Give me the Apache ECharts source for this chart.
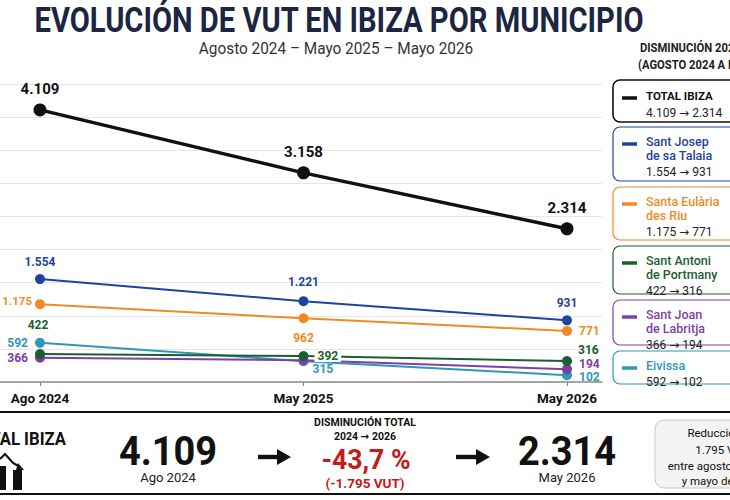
<!DOCTYPE html>
<html>
<head>
<meta charset="utf-8">
<script src="https://cdn.jsdelivr.net/npm/echarts@6/dist/echarts.min.js"></script>
<style>
html,body{margin:0;padding:0;background:#fff;}
#chart{width:730px;height:500px;}
</style>
</head>
<body>
<div id="chart"></div>
<script>
// ---- DATA ----
var categories = ['Ago 2024', 'May 2025', 'May 2026'];
var totalIbiza   = [4109, 3158, 2314];
var santJosep    = [1554, 1221, 931];
var santaEularia = [1175, 962, 771];
var santAntoni   = [422, 392, 316];
var santJoan     = [366, 330, 194];
var eivissa      = [592, 315, 102];
var seriesNames  = ['TOTAL IBIZA', 'Sant Josep\nde sa Talaia', 'Santa Eulària\ndes Riu', 'Sant Antoni\nde Portmany', 'Sant Joan\nde Labritja', 'Eivissa'];
var yTicks = [0, 500, 1000, 1500, 2000, 2500, 3000, 3500, 4000, 4500];

// ---- STYLE ----
var FONT = 'Roboto, "Noto Sans", sans-serif';
var colors = ['#111111', '#1f449e', '#f08a24', '#1c5e33', '#7e40a8', '#2f97b7'];
function fmt(v) { return String(v).replace(/\B(?=(\d{3})+(?!\d))/g, '.'); }

var allSeries = [totalIbiza, santJosep, santaEularia, santAntoni, santJoan, eivissa];

// label placement per series / point (style only)
var labelCfg = [
  [{position:'top', distance:7}, {position:'top', distance:7}, {position:'top', distance:7}],
  [{position:'top', distance:6}, {position:'top', distance:8}, {position:'top', distance:6}],
  [{position:'left', distance:3, offset:[0,-3], fontSize:11.5}, {position:'bottom', distance:9}, {position:'right', distance:7}],
  [{position:'top', distance:6, offset:[-2,-12]}, {position:'right', distance:6, backgroundColor:'#fff', padding:[0,3]}, {position:'right', distance:6, offset:[0,-11]}],
  [{position:'left', distance:7}, {show:false}, {position:'right', distance:7, offset:[0,-5]}],
  [{position:'left', distance:7}, {position:'right', distance:4, offset:[0,8]}, {position:'right', distance:7, offset:[0,2]}]
];

var series = allSeries.map(function (vals, si) {
  var isTotal = si === 0;
  return {
    name: seriesNames[si].replace('\n', ' '),
    type: 'line',
    xAxisIndex: 1,
    yAxisIndex: 1,
    data: vals.map(function (v, i) {
      return { value: v, label: labelCfg[si][i] };
    }),
    symbol: 'circle',
    symbolSize: isTotal ? 13 : 10,
    lineStyle: { color: colors[si], width: isTotal ? 3.5 : 2 },
    itemStyle: { color: colors[si] },
    z: isTotal ? 10 : 5 + (6 - si),
    label: {
      show: true,
      formatter: function (p) { return fmt(p.value); },
      color: colors[si] === '#111111' ? '#111' : colors[si],
      fontFamily: FONT,
      fontWeight: 'bold',
      fontSize: isTotal ? 15 : 12
    },
    emphasis: { disabled: true },
    animation: false
  };
});

// ---- GRAPHICS ----
var graphics = [];
function txt(text, x, y, size, weight, color, align, extra, rich) {
  var el = {
    type: 'text', x: x, y: y, z: 100,
    style: {
      text: text, x: 0, y: 0,
      fontSize: size, fontWeight: weight || 'normal', fontFamily: FONT,
      fill: color || '#111',
      align: align || 'center', textAlign: align || 'center',
      verticalAlign: 'middle', textVerticalAlign: 'middle'
    }
  };
  if (rich) el.style.rich = rich;
  if (extra) { for (var k in extra) el[k] = extra[k]; }
  graphics.push(el);
}
function arrowRich(size, weight, color) {
  return {
    t: { fontSize: size, fontWeight: weight, fontFamily: FONT, fill: color },
    a: { fontSize: size, fontWeight: weight, fontFamily: '"DejaVu Sans", sans-serif', fill: color }
  };
}

// title + subtitle
txt('EVOLUCIÓN DE VUT EN IBIZA POR MUNICIPIO', 339, 20, 36, 'bold', '#1c2541', 'center', { scaleX: 0.81 });
txt('Agosto 2024 – Mayo 2025 – Mayo 2026', 336, 48, 16, 'normal', '#333', 'center', { scaleX: 0.96 });

// legend header
txt('DISMINUCIÓN 2024–2026', 640, 48, 12.5, 'bold', '#222', 'left', { scaleX: 0.9 });
txt('(AGOSTO 2024 A MAYO 2026)', 638, 65, 12.5, 'bold', '#222', 'left', { scaleX: 0.9 });

// legend boxes
var boxTop = [80, 127, 187, 246, 300, 351];
var boxH   = [42, 54, 53, 48, 45, 33];
seriesNames.forEach(function (nm, si) {
  var top = boxTop[si];
  var nLines = nm.split('\n').length;
  graphics.push({
    type: 'rect', z: 90,
    shape: { x: 613, y: top, width: 150, height: boxH[si], r: 7 },
    style: { fill: '#fff', stroke: colors[si], lineWidth: si === 0 ? 1.6 : 1.2 }
  });
  var lineY = si === 0 ? top + 18 : top + 17;
  graphics.push({
    type: 'line', z: 95,
    shape: { x1: 622, y1: lineY, x2: 637, y2: lineY },
    style: { stroke: colors[si], lineWidth: 3.5 }
  });
  var firstY = si === 0 ? top + 16 : top + 14;
  nm.split('\n').forEach(function (ln, li) {
    txt(ln, 646, firstY + li * 14, si === 0 ? 11.5 : 12.5, si === 0 ? 'bold' : '500', si === 0 ? '#111' : colors[si], 'left');
  });
  var vals = allSeries[si];
  txt('{t|' + fmt(vals[0]) + ' }{a|→}{t| ' + fmt(vals[vals.length - 1]) + '}', 646, firstY + nLines * 14 + 3, 12, 'normal', '#222', 'left', null, arrowRich(12, 'normal', '#222'));
});

// bottom panel
var startV = totalIbiza[0], endV = totalIbiza[totalIbiza.length - 1];
var diff = startV - endV;
var pct = ((endV - startV) / startV * 100).toFixed(1).replace('.', ',');
graphics.push({
  type: 'rect', z: 80,
  shape: { x: -5, y: 412, width: 745, height: 82 },
  style: { fill: '#fff', stroke: '#111', lineWidth: 2 }
});
txt('TOTAL IBIZA', 66, 438, 19, 'bold', '#111', 'right', { scaleX: 0.88 });
// icon: bars + falling arrow
graphics.push({ type: 'rect', z: 100, shape: { x: 0, y: 466, width: 6, height: 24 }, style: { fill: '#111' } });
graphics.push({ type: 'rect', z: 100, shape: { x: 13, y: 470, width: 9, height: 20 }, style: { fill: '#111' } });
graphics.push({ type: 'polyline', z: 100, shape: { points: [[0, 459], [5, 454], [13, 463], [20, 467]] }, style: { stroke: '#111', lineWidth: 2.2, fill: null } });
graphics.push({ type: 'polygon', z: 100, shape: { points: [[18, 463], [24, 470], [16, 470]] }, style: { fill: '#111' } });

txt(fmt(startV), 168, 452, 40, 'bold', '#111', 'center', { scaleX: 0.95 });
txt(categories[0], 168, 477, 13, 'normal', '#222', 'center');
txt('DISMINUCIÓN TOTAL', 365, 422, 10.5, 'bold', '#111', 'center');
txt('{t|' + categories[0].slice(-4) + ' }{a|→}{t| ' + categories[2].slice(-4) + '}', 365, 436, 10.5, 'bold', '#111', 'center', null, arrowRich(10.5, 'bold', '#111'));
txt(pct + ' %', 366, 460, 28, 'bold', '#c41a1a', 'center', { scaleX: 0.95 });
txt('(-' + fmt(diff) + ' VUT)', 365, 483, 13.5, 'bold', '#c41a1a', 'center');
txt(fmt(endV), 567, 452, 40, 'bold', '#111', 'center', { scaleX: 0.95 });
txt(categories[2], 567, 477, 13, 'normal', '#222', 'center');

function arrow(x0, x1, y) {
  graphics.push({ type: 'rect', z: 100, shape: { x: x0, y: y - 2.2, width: x1 - x0 - 12, height: 4.4 }, style: { fill: '#111' } });
  graphics.push({ type: 'polygon', z: 100, shape: { points: [[x1 - 14, y - 8], [x1, y], [x1 - 14, y + 8]] }, style: { fill: '#111' } });
}
arrow(258, 291, 457);
arrow(456, 490, 457);

graphics.push({
  type: 'rect', z: 90,
  shape: { x: 655, y: 420, width: 110, height: 68, r: 9 },
  style: { fill: '#f4f4f4', stroke: '#c8c8c8', lineWidth: 1 }
});
txt('Reducción de', 722, 433, 11.5, 'normal', '#111', 'center');
txt(fmt(diff) + ' VUT', 722, 450, 11.5, 'normal', '#111', 'center');
txt('entre agosto de 2024', 722, 466, 11.5, 'normal', '#111', 'center');
txt('y mayo de 2026', 722, 481, 11.5, 'normal', '#111', 'center');

// ---- CHART ----
var chart = echarts.init(document.getElementById('chart'), null, { renderer: 'svg' });
chart.setOption({
  backgroundColor: '#fff',
  animation: false,
  textStyle: { fontFamily: FONT },
  grid: [
    { left: 0, right: 128, top: 84, bottom: 118 },
    { left: 40, right: 163, top: 84, bottom: 118 }
  ],
  xAxis: [
    { gridIndex: 0, type: 'value', min: 0, max: 1,
      axisLine: { show: true, lineStyle: { color: '#8a8a8a', width: 1.5 } },
      axisTick: { show: false }, axisLabel: { show: false }, splitLine: { show: false } },
    { gridIndex: 1, type: 'category', data: categories, boundaryGap: false,
      axisLine: { show: false },
      axisTick: { show: true, length: 4, lineStyle: { color: '#888' } },
      axisLabel: { color: '#111', fontWeight: 'bold', fontSize: 13.5, margin: 9, fontFamily: FONT } }
  ],
  yAxis: [
    { gridIndex: 0, type: 'value', min: yTicks[0], max: yTicks[yTicks.length - 1], interval: yTicks[1] - yTicks[0],
      axisLine: { show: false }, axisTick: { show: false }, axisLabel: { show: false },
      splitLine: { show: true, lineStyle: { color: '#e6e6e6', width: 1 } } },
    { gridIndex: 1, type: 'value', min: yTicks[0], max: yTicks[yTicks.length - 1], interval: yTicks[1] - yTicks[0],
      show: false, splitLine: { show: false } }
  ],
  series: series,
  graphic: graphics
});
</script>
</body>
</html>
